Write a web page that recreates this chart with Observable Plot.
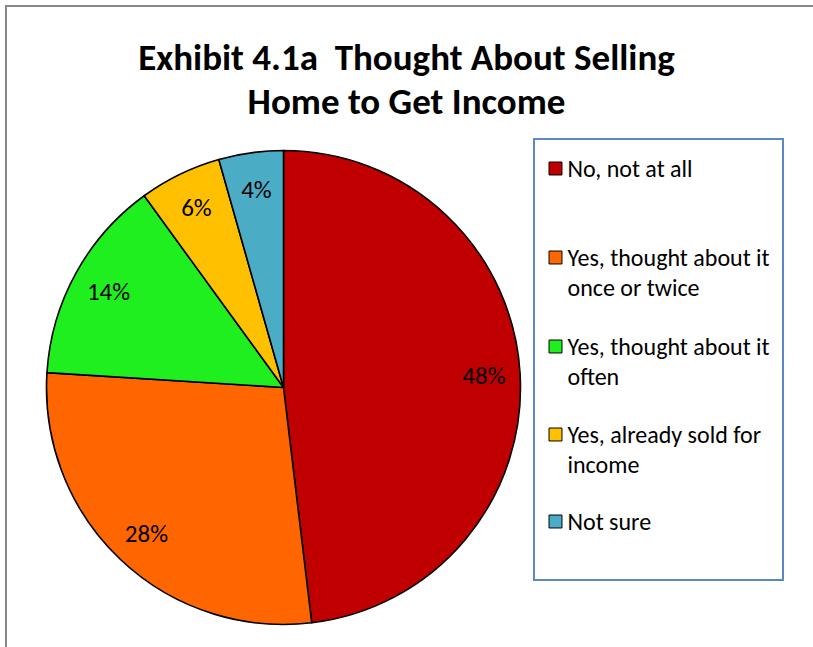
<!DOCTYPE html>
<html>
<head>
<meta charset="utf-8">
<script src="https://cdn.jsdelivr.net/npm/d3@7"></script>
<script src="https://cdn.jsdelivr.net/npm/@observablehq/plot@0.6"></script>
<style>
  body { margin: 0; background: #fff; }
  #frame { position: relative; width: 813px; height: 647px; overflow: hidden; background: #fff;
           font-family: Carlito, Calibri, Lato, sans-serif; }
  #border { position: absolute; left: 5px; top: 5px; width: 900px; height: 800px;
            border-left: 2px solid #888; border-top: 2px solid #888; box-sizing: border-box; }
  #title { position: absolute; left: 0; top: 36px; width: 813px; text-align: center;
           font-weight: bold; font-size: 37px; line-height: 44px; color: #000; }
  #chart { position: absolute; left: 0; top: 0; }
  #legendBox { position: absolute; left: 533px; top: 138px; width: 251px; height: 443px;
               border: 2px solid #5B87C5; box-sizing: border-box; background: #fff; }
</style>
</head>
<body>
<div id="frame">
  <div id="border"></div>
  <div id="title">Exhibit 4.1a&nbsp; Thought About Selling<br>Home to Get Income</div>
  <div id="legendBox"></div>
  <div id="chart"></div>
</div>
<script>
// ---- data ----
const categories = [
  "No, not at all",
  "Yes, thought about it once or twice",
  "Yes, thought about it often",
  "Yes, already sold for income",
  "Not sure"
];
const values = [48.1, 27.9, 14.0, 5.6, 4.4];
const colors = ["#C00000", "#FF6600", "#1FEF1F", "#FFC000", "#4BACC6"];
const legendLabels = [
  "No, not at all",
  "Yes, thought about it\nonce or twice",
  "Yes, thought about it\noften",
  "Yes, already sold for\nincome",
  "Not sure"
];

// ---- layout (pixels) ----
const W = 813, H = 647;
const cx = 283.5, cy = 387.5, R = 237;
const labelR = R * 0.845;
const fontFam = "Carlito, Calibri, Lato, sans-serif";
const fs = 24;

const rows = categories.map((c, i) => ({category: c, value: values[i], legend: legendLabels[i], i}));
const pie = d3.pie().value(d => d.value).sort(null)(rows);
const slices = pie.map(p => {
  const mid = (p.startAngle + p.endAngle) / 2;
  return {
    ...p.data,
    startAngle: p.startAngle,
    endAngle: p.endAngle,
    lx: cx + labelR * Math.sin(mid),
    ly: cy - labelR * Math.cos(mid),
    label: Math.round(p.data.value) + "%"
  };
});

// legend rows: centre of the first line of each entry
const legendTop = [168, 257, 346, 434, 521];
const legendRows = rows.map((r, i) => ({...r, ty: legendTop[i]}));

const arc = d3.arc().innerRadius(0).outerRadius(R);

const chart = Plot.plot({
  width: W,
  height: H,
  margin: 0,
  x: {type: "identity", axis: null},
  y: {type: "identity", axis: null},
  color: {domain: categories, range: colors},
  style: {background: "transparent", fontFamily: fontFam},
  marks: [
    // pie slices drawn through Plot's color scale
    (index, scales) => {
      const g = d3.create("svg:g").attr("transform", `translate(${cx},${cy})`);
      const colorFn = scales.color || (c => colors[categories.indexOf(c)]);
      g.selectAll("path")
        .data(slices)
        .join("path")
        .attr("d", d => arc(d))
        .attr("fill", d => colorFn(d.category))
        .attr("stroke", "#000")
        .attr("stroke-width", 1.6)
        .attr("stroke-linejoin", "round");
      return g.node();
    },
    Plot.text(slices, {
      x: "lx", y: "ly", text: "label",
      fontSize: 25, fill: "#000", textAnchor: "middle"
    }),
    // legend swatches
    Plot.dot(legendRows, {
      x: () => 555, y: "ty", fill: "category",
      symbol: "square", r: 7.3, stroke: "#000", strokeWidth: 1
    }),
    Plot.text(legendRows, {
      x: () => 567, y: "ty", text: "legend",
      textAnchor: "start", lineAnchor: "top", lineHeight: 1.24,
      dy: -0.36 * fs - 4,
      fontSize: fs, fill: "#000"
    })
  ]
});
document.getElementById("chart").appendChild(chart);
</script>
</body>
</html>
